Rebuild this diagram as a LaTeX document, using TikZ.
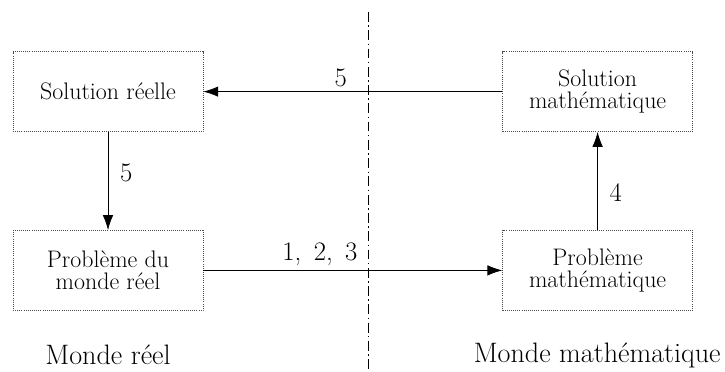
\documentclass[tikz,border=0pt]{standalone}
\usepackage{tikz}
\usetikzlibrary{arrows.meta}

\begin{document}
\begin{tikzpicture}[>=Latex]
\useasboundingbox (0,0) rectangle (18.125,-9.3);
\tikzset{
  etape/.style={draw=black!70,densely dotted,line width=0.5pt,minimum width=4.75cm,minimum height=2.0cm,align=center,font=\fontsize{17}{16}\selectfont,inner sep=2pt},
  fleche/.style={-{Latex[length=3.7mm,width=2.6mm]},line width=0.5pt},
  num/.style={font=\fontsize{19}{21}\selectfont},
  monde/.style={font=\fontsize{20}{22}\selectfont}
}
\node[etape] (solr) at (2.7,-2.29) {Solution réelle};
\node[etape] (solm) at (14.94,-2.29) {Solution\\mathématique};
\node[etape] (probr) at (2.7,-6.76) {Problème du\\monde réel};
\node[etape] (probm) at (14.94,-6.76) {Problème\\mathématique};
\node[monde] (mr) at (2.7,-8.88) {Monde réel};
\node[monde] (mm) at (14.93,-8.88) {Monde mathématique};
\coordinate (sep0) at (9.22,-0.3);
\coordinate (sep1) at (9.22,-9.3);
\draw[line width=0.5pt,dash pattern=on 7pt off 2.5pt on 1pt off 2.5pt] (sep0)--(sep1);
\draw[fleche] (solm.west)--node[num,pos=0.54,above=0pt]{5}(solr.east);
\draw[fleche] (solr.south)--node[num,pos=0.42,right=5pt]{5}(probr.north);
\draw[fleche] (probm.north)--node[num,pos=0.38,right=5pt]{4}(solm.south);
\draw[fleche] (probr.east)--node[num,pos=0.39,above=0pt]{1,\, 2,\, 3}(probm.west);
\end{tikzpicture}
\end{document}
